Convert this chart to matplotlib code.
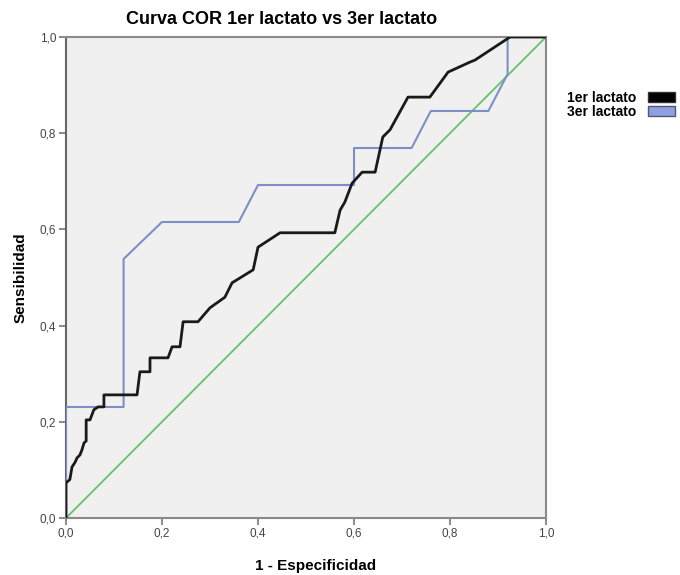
import matplotlib
matplotlib.use("Agg")
import matplotlib.pyplot as plt
from matplotlib.patches import Patch

plt.rcParams['font.family'] = ['Liberation Sans', 'DejaVu Sans']

# 1er lactato ROC curve (1 - specificity, sensitivity)
fpr_1 = [0.0, 0.0, 0.008, 0.0125, 0.019, 0.023, 0.029, 0.033, 0.0375, 0.042, 0.042, 0.05,
         0.058, 0.067, 0.079, 0.079, 0.148, 0.154, 0.175, 0.175, 0.2125, 0.221, 0.2375,
         0.244, 0.275, 0.3, 0.331, 0.346, 0.39, 0.4, 0.446, 0.56, 0.571, 0.581, 0.596,
         0.617, 0.644, 0.66, 0.675, 0.7125, 0.758, 0.796, 0.842, 0.852, 0.925, 1.0]
tpr_1 = [0.0, 0.073, 0.08, 0.106, 0.116, 0.125, 0.131, 0.141, 0.156, 0.16, 0.204, 0.204,
         0.225, 0.231, 0.231, 0.256, 0.256, 0.304, 0.304, 0.333, 0.333, 0.356, 0.356,
         0.408, 0.408, 0.437, 0.459, 0.489, 0.516, 0.563, 0.593, 0.593, 0.64, 0.657, 0.696,
         0.719, 0.719, 0.792, 0.807, 0.875, 0.875, 0.927, 0.948, 0.952, 1.0, 1.0]

# 3er lactato ROC curve
fpr_3 = [0.0, 0.0, 0.12, 0.12, 0.2, 0.36, 0.4, 0.6, 0.6, 0.72, 0.76, 0.88, 0.92, 0.92, 1.0]
tpr_3 = [0.0, 0.2308, 0.2308, 0.5385, 0.6154, 0.6154, 0.6923, 0.6923, 0.7692, 0.7692,
         0.8462, 0.8462, 0.9231, 1.0, 1.0]

ref_line = [0.0, 1.0]

series_labels = ["1er lactato", "3er lactato"]
tick_vals = [0.0, 0.2, 0.4, 0.6, 0.8, 1.0]
tick_labels = ["0,0", "0,2", "0,4", "0,6", "0,8", "1,0"]

fig = plt.figure(figsize=(6.8, 5.75), dpi=100)
ax = fig.add_axes([66/680, 1 - 518/575, 480/680, 481/575])
ax.set_facecolor('#f0f0f0')

ax.plot(ref_line, ref_line, color='#66c266', lw=1.3, zorder=2)
ax.plot(fpr_3, tpr_3, color='#7e8fc8', lw=1.5, zorder=3)
ax.plot(fpr_1, tpr_1, color='#1a1a1a', lw=2.0, zorder=4)

ax.set_xlim(0, 1)
ax.set_ylim(0, 1)
ax.set_xticks(tick_vals)
ax.set_xticklabels(tick_labels)
ax.set_yticks(tick_vals)
ax.set_yticklabels(tick_labels)
ax.tick_params(direction='out', length=5, width=1.2, colors='#777777',
               labelsize=8.5, labelcolor='#444444', pad=2)
for s in ax.spines.values():
    s.set_color('#8a8a8a')
    s.set_linewidth(1.5)
ax.spines['left'].set_color('#666666')

ax.set_xlabel("1 - Especificidad", fontsize=11, fontweight='bold', labelpad=14, x=0.52)
ax.set_ylabel("Sensibilidad", fontsize=11, fontweight='bold', labelpad=9)
ax.set_title("Curva COR 1er lactato vs 3er lactato", fontsize=13, fontweight='bold',
             pad=9, x=0.45)

handles = [Patch(facecolor='#000000', edgecolor='#333333', label=series_labels[0]),
           Patch(facecolor='#8fa0e0', edgecolor='#555577', label=series_labels[1])]
leg = ax.legend(handles=handles, loc='upper left', bbox_to_anchor=(1.043, 0.888),
                frameon=False, markerfirst=False, fontsize=10, handlelength=1.9,
                handleheight=0.8, handletextpad=0.9, labelspacing=0.0, borderaxespad=0,
                borderpad=0)
for t in leg.get_texts():
    t.set_fontweight('bold')

fig.savefig("out.png", dpi=100)
